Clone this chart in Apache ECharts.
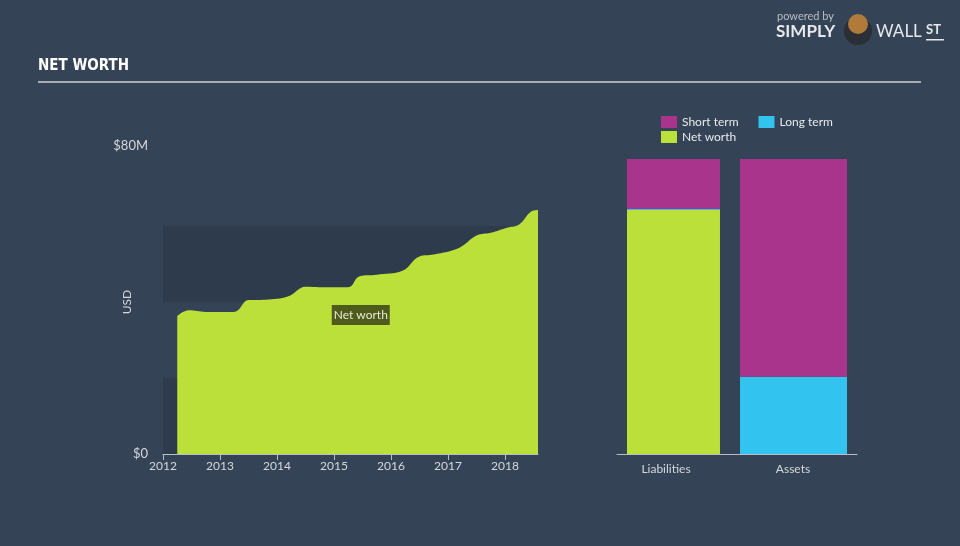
<!DOCTYPE html>
<html><head><meta charset="utf-8">
<script src="https://cdn.jsdelivr.net/npm/echarts@6/dist/echarts.min.js"></script>
<style>html,body{margin:0;padding:0;background:#344355;}#c{width:960px;height:546px;}</style>
</head><body><div id="c"></div>
<script>
// Net worth history: [year (decimal), USD millions]
const nwYears  = [2012.25,2012.45,2012.75,2013.25,2013.5,2013.8,2014.2,2014.5,2014.75,2015.25,2015.45,2015.75,2016.2,2016.5,2016.75,2017.2,2017.5,2017.75,2018.05,2018.25,2018.45,2018.58];
const nwValues = [36.3,37.8,37.4,37.4,40.5,40.6,41.5,44.0,43.9,43.9,46.8,47.2,48.2,52.0,52.5,54.3,57.5,58.2,59.6,60.4,63.7,64.2];
// Balance sheet (USD millions)
const barCategories = ['Liabilities','Assets'];
const liabNetWorth = [64.2, '-'];
const liabLongTerm = [0.3, '-'];
const liabShortTerm = [13.1, '-'];
const assetLongTerm = ['-', 20.3];
const assetShortTerm = ['-', 57.3];
const yTickLabels = {0: '{b|$0}', 80: '{t|$80M}'};

const GREEN = '#bbe03a', MAGENTA = '#a8348c', CYAN = '#33c3ef';
const FONT = 'Lato, "Noto Sans", sans-serif';
const TXT = '#d4d8de';

const chart = echarts.init(document.getElementById('c'));
chart.setOption({
  backgroundColor: '#344355',
  animation: false,
  textStyle: {fontFamily: FONT},
  graphic: [
    {type: 'text', left: 38, top: 59, style: {text: 'NET WORTH', fill: '#ffffff', font: 'bold 15px "Liberation Sans Narrow", "DejaVu Sans Condensed", sans-serif'}},
    {type: 'rect', shape: {x: 38, y: 81, width: 883, height: 2}, style: {fill: '#a7adb5'}},
    {type: 'text', left: 777, top: 11, style: {text: 'powered by', fill: '#b8bec6', font: '11px ' + FONT}},
    {type: 'text', left: 776, top: 23, style: {text: 'SIMPLY', fill: '#e6e8eb', font: 'bold 17px ' + FONT}},
    {type: 'circle', shape: {cx: 858, cy: 31, r: 14}, style: {fill: '#2a2f36'}},
    {type: 'circle', shape: {cx: 858, cy: 24, r: 10}, style: {fill: '#b07a3a'}},
    {type: 'text', left: 876, top: 23, style: {text: 'WALL', fill: '#e6e8eb', font: '17px ' + FONT}},
    {type: 'text', left: 926, top: 23, style: {text: 'ST', fill: '#e6e8eb', font: 'bold 13px ' + FONT}},
    {type: 'rect', shape: {x: 926, y: 39, width: 18, height: 1.5}, style: {fill: '#e6e8eb'}}
  ],
  legend: [
    {data: ['Short term', 'Long term'], left: 656, top: 111, icon: 'rect', itemWidth: 16, itemHeight: 12, itemGap: 20,
     textStyle: {color: '#e8eaee', fontSize: 12, fontFamily: FONT}},
    {data: ['Net worth'], left: 656, top: 126, icon: 'rect', itemWidth: 16, itemHeight: 12,
     textStyle: {color: '#e8eaee', fontSize: 12, fontFamily: FONT}}
  ],
  grid: [
    {left: 163, right: 422, top: 150, bottom: 92},
    {left: 617, right: 103, top: 150, bottom: 92}
  ],
  xAxis: [
    {type: 'value', gridIndex: 0, min: 2012, max: 2018.58, interval: 1,
     axisLine: {show: true, lineStyle: {color: '#b8bec6'}},
     axisTick: {show: true, length: 6, lineStyle: {color: '#b8bec6'}},
     axisLabel: {color: TXT, fontSize: 12, margin: 6, showMaxLabel: false, formatter: v => String(Math.round(v))},
     splitLine: {show: false}},
    {type: 'category', gridIndex: 1, data: barCategories,
     axisLine: {show: true, lineStyle: {color: '#b8bec6'}},
     axisTick: {show: false},
     axisLabel: {color: TXT, fontSize: 12, margin: 9,
       formatter: v => v === 'Liabilities' ? '{l|' + v + '}' : '{a|' + v + '}',
       rich: {l: {fontSize: 12, color: TXT, padding: [0, 22, 0, 0]}, a: {fontSize: 12, color: TXT, padding: [0, 8, 0, 0]}}}}
  ],
  yAxis: [
    {type: 'value', gridIndex: 0, min: 0, max: 80, interval: 20,
     name: 'USD', nameLocation: 'middle', nameGap: 30, nameRotate: 90, nameMoveOverlap: false,
     nameTextStyle: {color: TXT, fontSize: 12},
     axisLine: {show: false}, axisTick: {show: false},
     axisLabel: {color: TXT, fontSize: 13, margin: 15, formatter: v => yTickLabels[v] || '',
       rich: {t: {fontSize: 13, color: TXT, padding: [0, 0, 8, 0]}, b: {fontSize: 13, color: TXT}}},
     splitLine: {show: false},
     splitArea: {show: true, areaStyle: {color: ['#2e3b4c', 'rgba(0,0,0,0)']}}},
    {type: 'value', gridIndex: 1, min: 0, max: 80, show: false, splitLine: {show: false}}
  ],
  series: [
    {name: 'Net worth', type: 'line', xAxisIndex: 0, yAxisIndex: 0,
     data: nwYears.map((y, i) => [y, nwValues[i]]),
     smooth: 0.4, symbol: 'none', lineStyle: {width: 0}, itemStyle: {color: GREEN},
     areaStyle: {color: GREEN, opacity: 1},
     markPoint: {symbol: 'rect', symbolSize: [58, 20], itemStyle: {color: '#4e5b1c'},
       label: {show: true, formatter: 'Net worth', color: '#e6ead2', fontSize: 12},
       data: [{coord: [2015.47, 36.6], value: 'Net worth'}]}},
    {name: 'Net worth', type: 'bar', xAxisIndex: 1, yAxisIndex: 1, stack: 'L', barWidth: 93, barGap: '-107.5%',
     data: liabNetWorth, itemStyle: {color: GREEN}},
    {name: 'Long term', type: 'bar', xAxisIndex: 1, yAxisIndex: 1, stack: 'L', barWidth: 93, barGap: '-107.5%',
     data: liabLongTerm, itemStyle: {color: CYAN}},
    {name: 'Short term', type: 'bar', xAxisIndex: 1, yAxisIndex: 1, stack: 'L', barWidth: 93, barGap: '-107.5%',
     data: liabShortTerm, itemStyle: {color: MAGENTA}},
    {name: 'Long term', type: 'bar', xAxisIndex: 1, yAxisIndex: 1, stack: 'A', barWidth: 107, barGap: '-107.5%',
     data: assetLongTerm, itemStyle: {color: CYAN}},
    {name: 'Short term', type: 'bar', xAxisIndex: 1, yAxisIndex: 1, stack: 'A', barWidth: 107, barGap: '-107.5%',
     data: assetShortTerm, itemStyle: {color: MAGENTA}}
  ]
});
</script></body></html>
